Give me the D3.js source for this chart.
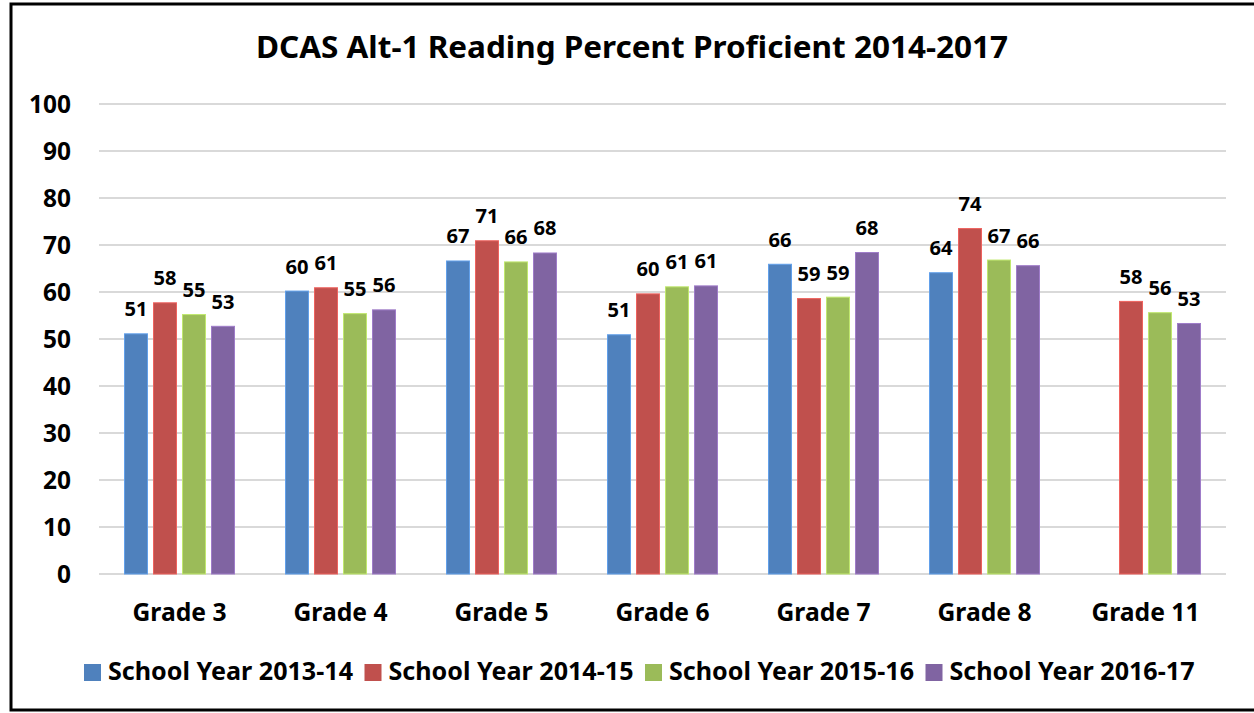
<!DOCTYPE html>
<html>
<head>
<meta charset="utf-8">
<script src="https://cdn.jsdelivr.net/npm/d3@7"></script>
<style>
body{margin:0;background:#fff}
text{font-family:"Noto Sans",sans-serif;font-weight:bold;fill:#000}
</style>
</head>
<body>
<svg id="chart" width="1254" height="713"></svg>
<script>
var grades=["Grade 3","Grade 4","Grade 5","Grade 6","Grade 7","Grade 8","Grade 11"]
var years=["School Year 2013-14","School Year 2014-15","School Year 2015-16","School Year 2016-17"]
var y1314=[51.1,60.2,66.6,50.9,65.9,64.1,null]
var y1415=[57.7,60.9,70.9,59.6,58.6,73.5,58.0]
var y1516=[55.2,55.4,66.4,61.1,58.9,66.8,55.6]
var y1617=[52.7,56.2,68.3,61.3,68.4,65.6,53.3]
var yTicks=[0,10,20,30,40,50,60,70,80,90,100]
var colors=["#4F81BD","#C0504D","#9BBB59","#8064A2"]
var series=[y1314,y1415,y1516,y1617]

var svg=d3.select("#chart")

// outer frame (right side runs off the picture)
svg.append("rect").attr("x",11).attr("y",4).attr("width",1260).attr("height",706)
  .attr("fill","none").attr("stroke","#000").attr("stroke-width",3)

// squeeze factor so a sample string at font size fs spans width w
function squeeze(str,fs,w){
  var t=svg.append("text").attr("font-size",fs).text(str)
  var k=w/t.node().getComputedTextLength()
  t.remove()
  return k
}
// narrow every text in a selection by factor k (glyphs keep their height)
function narrow(sel,k){
  sel.each(function(){
    var len=this.getComputedTextLength()
    d3.select(this).attr("textLength",len*k).attr("lengthAdjust","spacingAndGlyphs")
  })
}

var x0=d3.scaleBand().domain(grades).range([99,1226])
var y=d3.scaleLinear().domain([0,100]).range([574,104])

var titleTxt="DCAS Alt-1 Reading Percent Proficient 2014-2017"
var title=svg.append("text").attr("x",632).attr("y",58).attr("text-anchor","middle")
  .attr("font-size",29.5).text(titleTxt)
narrow(title,squeeze(titleTxt,29.5,752))

// gridlines
svg.append("g").selectAll("line").data(yTicks).enter().append("line")
  .attr("x1",99).attr("x2",1226).attr("y1",d=>y(d)).attr("y2",d=>y(d))
  .attr("stroke","#d9d9d9").attr("stroke-width",2)

// y tick labels
var tickFs=25
var ticks=svg.append("g").selectAll("text").data(yTicks).enter().append("text")
  .attr("x",71).attr("y",d=>y(d)).attr("dy","0.36em").attr("text-anchor","end")
  .attr("font-size",tickFs).text(d=>d)
narrow(ticks,squeeze("100",tickFs,42))

// bars
var bw=23, gap=6, grp=4*bw+3*gap
var lighter=colors.map(c=>d3.color(c).brighter(0.6).formatHex())
var lblFs=19.5
var kLbl=squeeze("58",lblFs,23)
var fmt=d3.format(".0f")

series.forEach(function(vals,si){
  var g=svg.append("g")
  var data=grades.map((gname,i)=>({g:gname,v:vals[i]})).filter(d=>d.v!=null)
  g.selectAll("rect").data(data).enter().append("rect")
    .attr("x",d=>x0(d.g)+(x0.bandwidth()-grp)/2+si*(bw+gap))
    .attr("width",bw)
    .attr("y",d=>y(d.v)).attr("height",d=>y(0)-y(d.v))
    .attr("fill",colors[si]).attr("stroke",lighter[si]).attr("stroke-width",1)
  var lb=g.selectAll("text").data(data).enter().append("text")
    .attr("x",d=>x0(d.g)+(x0.bandwidth()-grp)/2+si*(bw+gap)+bw/2)
    .attr("y",d=>y(d.v)-17.5).attr("text-anchor","middle")
    .attr("font-size",lblFs).text(d=>fmt(d.v))
  narrow(lb,kLbl)
})

// category labels
var catFs=25
var cats=svg.append("g").selectAll("text").data(grades).enter().append("text")
  .attr("x",d=>x0(d)+x0.bandwidth()/2).attr("y",621).attr("text-anchor","middle")
  .attr("font-size",catFs).text(d=>d)
narrow(cats,squeeze("Grade 3",catFs,94))

// legend
var legFs=25.5
var kLeg=squeeze(years[0],legFs,245)
var sq=17, tgap=7, pitch=280.5
var leg=svg.append("g").attr("transform","translate(84,0)")
years.forEach(function(t,i){
  var it=leg.append("g").attr("transform","translate("+(i*pitch)+",0)")
  it.append("rect").attr("x",0).attr("y",664).attr("width",sq).attr("height",sq).attr("fill",colors[i])
  var tx=it.append("text").attr("x",sq+tgap).attr("y",680).attr("font-size",legFs).text(t)
  narrow(tx,kLeg)
})
</script>
</body>
</html>
